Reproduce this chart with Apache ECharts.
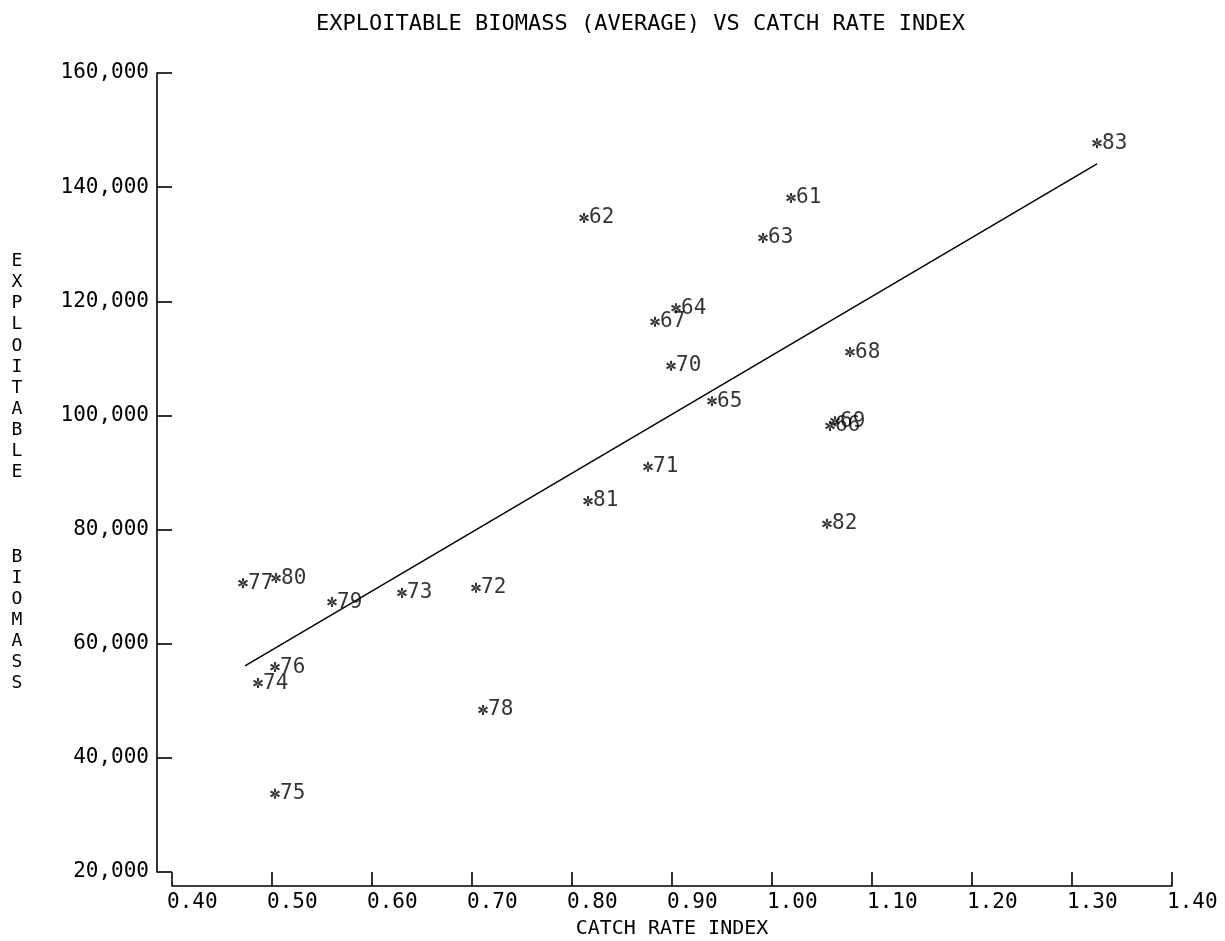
<!DOCTYPE html>
<html>
<head>
<meta charset="utf-8">
<title>Exploitable biomass vs catch rate index</title>
<script src="https://cdn.jsdelivr.net/npm/echarts@6/dist/echarts.min.js"></script>
<style>
  html, body { margin: 0; padding: 0; background: #fff; }
  #chart { width: 1225px; height: 941px; }
</style>
</head>
<body>
<div id="chart"></div>
<script>
// Points: season label, catch rate index, exploitable biomass
const years = ['61', '62', '63', '64', '65', '66', '67', '68', '69', '70', '71', '72',
  '73', '74', '75', '76', '77', '78', '79', '80', '81', '82', '83'];
const catchRate = [1.019, 0.812, 0.991, 0.904, 0.940, 1.058, 0.883, 1.078, 1.063, 0.899, 0.876, 0.704,
  0.630, 0.486, 0.503, 0.503, 0.471, 0.711, 0.560, 0.504, 0.816, 1.055, 1.325];
const biomass = [138100, 134600, 131100, 118800, 102500, 98150, 116400, 111100, 99000, 108700, 91000, 69800,
  68900, 53100, 33700, 55900, 70600, 48400, 67300, 71500, 85000, 81000, 147700];

// fitted line, both ends
const fitX = [0.473, 1.325];
const fitY = [56100, 144060];

const xTicks = [0.4, 1.4, 0.1];        // min, max, step
const yTicks = [20000, 160000, 20000];

const yName = 'EXPLOITABLE   BIOMASS';

const FONT = '"DejaVu Sans Mono", "Liberation Mono", monospace';
// small plotter-style asterisk: three crossed bars
const STAR = 'path://M-1,-5L1,-5L1,5L-1,5Z' +
  'M3.83,3.37L4.83,1.63L-3.83,-3.37L-4.83,-1.63Z' +
  'M-4.83,1.63L-3.83,3.37L4.83,-1.63L3.83,-3.37Z';

const chart = echarts.init(document.getElementById('chart'), null, { renderer: 'canvas' });

chart.setOption({
  animation: false,
  backgroundColor: '#fff',
  textStyle: { fontFamily: FONT, color: '#000' },
  title: {
    text: 'EXPLOITABLE BIOMASS (AVERAGE) VS CATCH RATE INDEX',
    left: 311,
    top: 8,
    textStyle: { fontFamily: FONT, fontSize: 22, fontWeight: 'normal', color: '#000' },
  },
  grid: {
    left: 172,
    right: 53,
    top: 73,
    bottom: 69,
    containLabel: false,
    outerBoundsMode: 'none',
  },
  xAxis: {
    type: 'value',
    min: xTicks[0],
    max: xTicks[1],
    interval: xTicks[2],
    offset: 14,
    name: 'CATCH RATE INDEX',
    nameLocation: 'middle',
    nameGap: 33,
    nameTextStyle: { fontFamily: FONT, fontSize: 20, color: '#000' },
    axisLine: { lineStyle: { color: '#000', width: 1.6 } },
    axisTick: { inside: true, length: 14, lineStyle: { color: '#000', width: 1.6 } },
    splitLine: { show: false },
    axisLabel: {
      fontFamily: FONT,
      fontSize: 21,
      color: '#000',
      margin: 6,
      align: 'left',
      padding: [0, 0, 0, -5],
      formatter: (v) => v.toFixed(2),
    },
  },
  yAxis: {
    type: 'value',
    min: yTicks[0],
    max: yTicks[1],
    interval: yTicks[2],
    offset: 15,
    name: yName.split('').join('\n'),
    nameLocation: 'middle',
    nameRotate: 0,
    nameGap: 140,
    nameTextStyle: {
      fontFamily: FONT,
      fontSize: 18,
      lineHeight: 21.1,
      color: '#000',
      align: 'center',
      verticalAlign: 'middle',
    },
    axisLine: { show: true, lineStyle: { color: '#000', width: 1.6 } },
    axisTick: { show: true, inside: true, length: 15, lineStyle: { color: '#000', width: 1.6 } },
    splitLine: { show: false },
    axisLabel: {
      fontFamily: FONT,
      fontSize: 21,
      color: '#000',
      margin: 8,
      formatter: (v) => v.toLocaleString('en-US'),
    },
  },
  series: [
    {
      type: 'line',
      data: fitX.map((x, i) => [x, fitY[i]]),
      symbol: 'none',
      lineStyle: { color: '#000', width: 1.5 },
      silent: true,
    },
    {
      type: 'scatter',
      symbol: STAR,
      symbolSize: 10,
      itemStyle: { color: '#000' },
      data: catchRate.map((x, i) => ({ value: [x, biomass[i]], name: years[i] })),
      label: {
        show: true,
        position: 'right',
        distance: 0,
        fontFamily: FONT,
        fontSize: 21,
        color: '#000',
        formatter: (p) => p.name,
      },
    },
  ],
});
</script>
</body>
</html>
